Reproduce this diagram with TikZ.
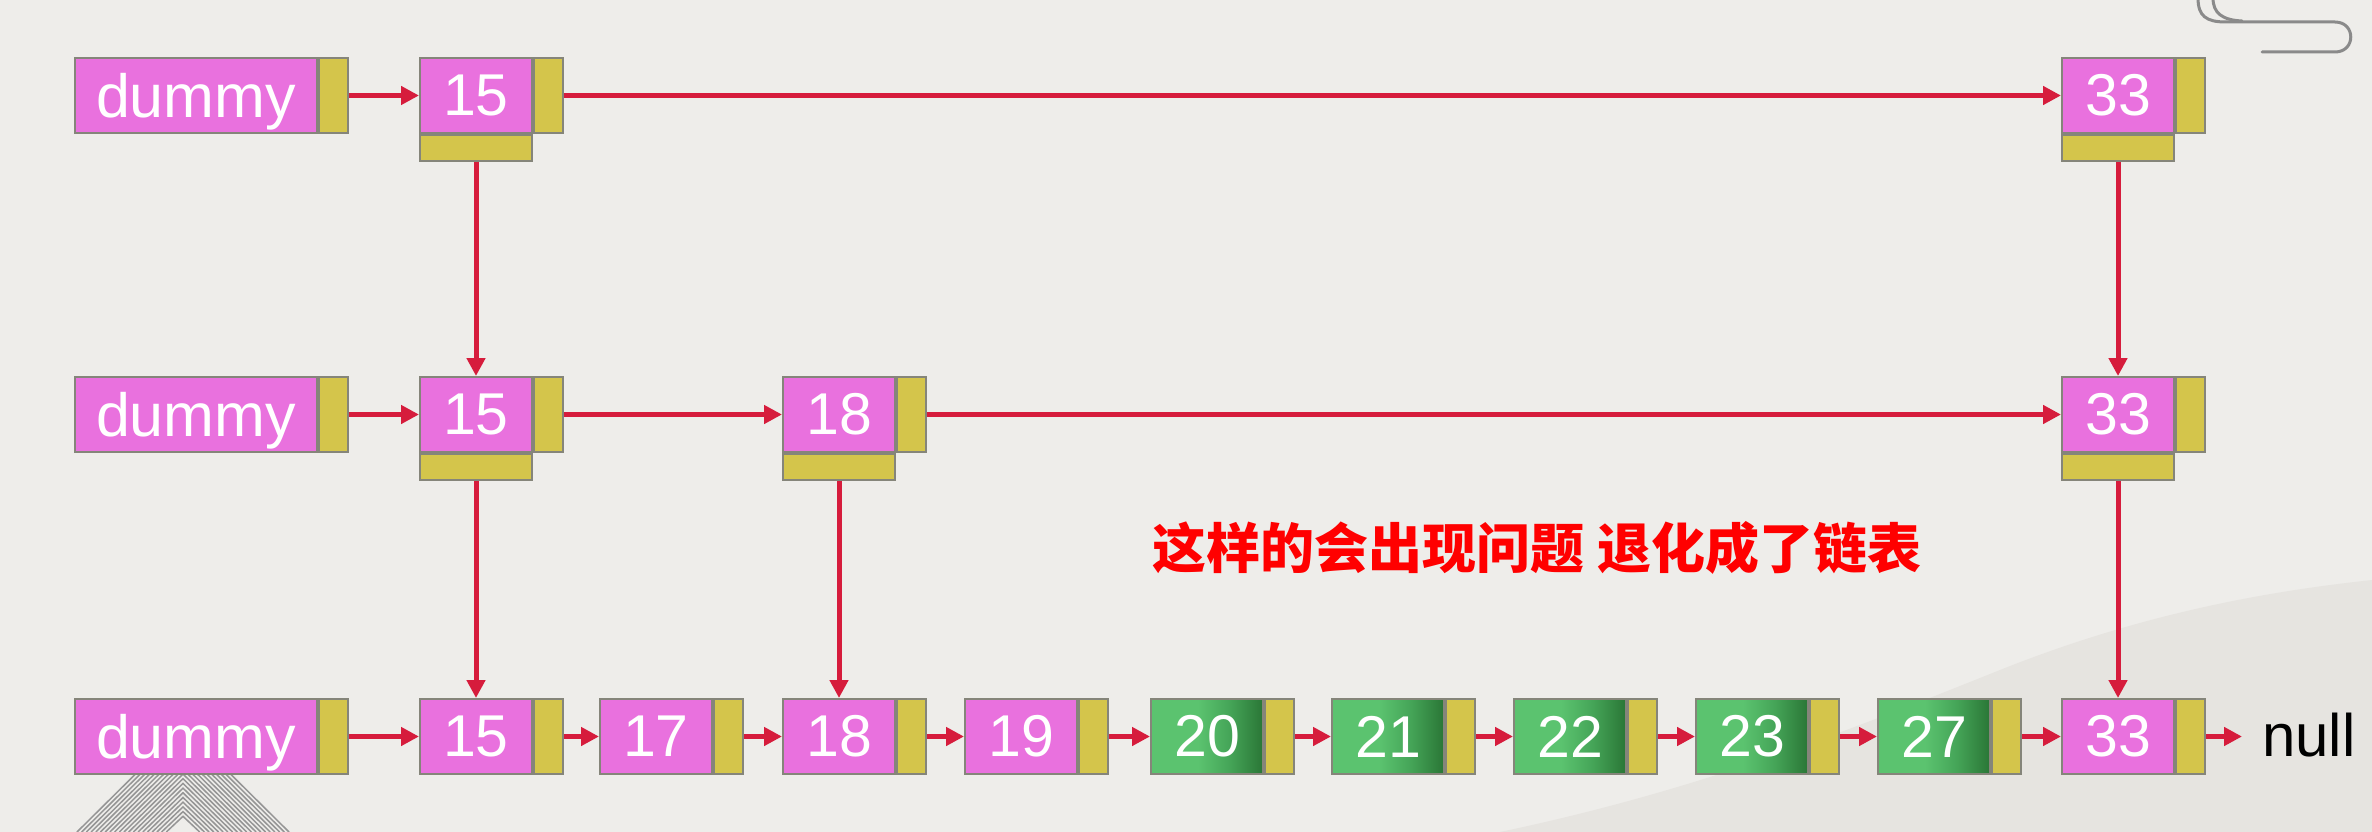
\documentclass[tikz,border=0pt]{standalone}
\usepackage{fontspec}
\setmainfont{Liberation Sans}
\newfontfamily\cjk{Noto Sans CJK SC}
\usetikzlibrary{arrows.meta}
\definecolor{bgc}{HTML}{EEEDEA}
\definecolor{hillc}{HTML}{E6E4E0}
\definecolor{pinkc}{HTML}{E971DE}
\definecolor{yelc}{HTML}{D4C54B}
\definecolor{bordc}{HTML}{85857A}
\definecolor{arrc}{HTML}{D61C3C}
\definecolor{gl}{HTML}{5BC36F}
\definecolor{gm}{HTML}{45A558}
\definecolor{gd}{HTML}{2A7636}
\definecolor{clipc}{HTML}{8A8A8A}
\definecolor{chevc}{HTML}{959595}
\pgfdeclarehorizontalshading{greensh}{100bp}{color(0bp)=(gl); color(25bp)=(gl); color(46bp)=(gl); color(60bp)=(gm); color(75bp)=(gd); color(100bp)=(gd)}
\tikzset{
  cell/.style={draw=bordc, line width=2pt, inner sep=0pt, anchor=north west,
    minimum height=75pt, text=white, font=\fontsize{59}{59}\selectfont},
  pinkcell/.style={cell, fill=pinkc, minimum width=112pt},
  greencell/.style={cell, shading=greensh, minimum width=112pt},
  dummycell/.style={cell, fill=pinkc, minimum width=242pt, text depth=0pt,
    font=\fontsize{61}{61}\selectfont},
  ptrcell/.style={cell, fill=yelc, minimum width=29pt},
  downbar/.style={cell, fill=yelc, minimum width=112pt, minimum height=26pt},
  link/.style={draw=arrc, line width=5pt, -{Triangle[length=18pt,width=18pt]}},
  chev/.style={draw=chevc, line width=1.5pt},
  clipline/.style={draw=clipc, line width=3pt, line cap=round},
}
\begin{document}
\begin{tikzpicture}[x=1pt,y=-1pt]
\useasboundingbox (0,0) rectangle (2372,832);
\fill[bgc] (0,0) rectangle (2372,832);
% faint hills bottom right
\fill[hillc] (1500,832) .. controls (1700,790) and (1850,730) .. (2000,670)
  .. controls (2150,610) and (2280,590) .. (2372,580) -- (2372,832) -- cycle;
% chevron pattern bottom left
\foreach \k in {0,...,19} {
  \draw[chev] ({77+4.7*\k},832) -- (183,{727+4.7*\k}) -- ({289-4.7*\k},832);
}
% paperclip top right
\draw[clipline] (2198,-2) .. controls (2198,16) and (2206,22) .. (2226,22)
  -- (2335,22) .. controls (2356,22) and (2356,52) .. (2335,52) -- (2262,52);
\draw[clipline] (2213,-2) .. controls (2213,13) and (2222,20) .. (2242,21);

% ---------- row 1 ----------
\node[dummycell] (d1) at (74,57) {dummy};
\node[ptrcell] (d1p) at (d1.north east) {};
\node[pinkcell] (a15) at (419,57) {15};
\node[ptrcell] (a15p) at (a15.north east) {};
\node[downbar] (a15b) at (a15.south west) {};
\node[pinkcell] (a33) at (2061,57) {33};
\node[ptrcell] (a33p) at (a33.north east) {};
\node[downbar] (a33b) at (a33.south west) {};

% ---------- row 2 ----------
\node[dummycell] (d2) at (74,376) {dummy};
\node[ptrcell] (d2p) at (d2.north east) {};
\node[pinkcell] (b15) at (419,376) {15};
\node[ptrcell] (b15p) at (b15.north east) {};
\node[downbar] (b15b) at (b15.south west) {};
\node[pinkcell] (b18) at (782,376) {18};
\node[ptrcell] (b18p) at (b18.north east) {};
\node[downbar] (b18b) at (b18.south west) {};
\node[pinkcell] (b33) at (2061,376) {33};
\node[ptrcell] (b33p) at (b33.north east) {};
\node[downbar] (b33b) at (b33.south west) {};

% ---------- row 3 ----------
\node[dummycell] (d3) at (74,698) {dummy};
\node[ptrcell] (d3p) at (d3.north east) {};
\node[pinkcell] (c15) at (419,698) {15};
\node[ptrcell] (c15p) at (c15.north east) {};
\node[pinkcell] (c17) at (599,698) {17};
\node[ptrcell] (c17p) at (c17.north east) {};
\node[pinkcell] (c18) at (782,698) {18};
\node[ptrcell] (c18p) at (c18.north east) {};
\node[pinkcell] (c19) at (964,698) {19};
\node[ptrcell] (c19p) at (c19.north east) {};
\node[greencell] (c20) at (1150,698) {20};
\node[ptrcell] (c20p) at (c20.north east) {};
\node[greencell] (c21) at (1331,698) {21};
\node[ptrcell] (c21p) at (c21.north east) {};
\node[greencell] (c22) at (1513,698) {22};
\node[ptrcell] (c22p) at (c22.north east) {};
\node[greencell] (c23) at (1695,698) {23};
\node[ptrcell] (c23p) at (c23.north east) {};
\node[greencell] (c27) at (1877,698) {27};
\node[ptrcell] (c27p) at (c27.north east) {};
\node[pinkcell] (c33) at (2061,698) {33};
\node[ptrcell] (c33p) at (c33.north east) {};
\node[font=\fontsize{60}{60}\selectfont, text=black, inner sep=0pt, anchor=west] (nul) at (2262,735) {null};

% message
\node[text=red, font=\cjk\bfseries\fontsize{54}{54}\selectfont] (msg) at (1537,548) {这样的会出现问题 退化成了链表};

% ---------- connectors ----------
\draw[link] (d1p.east) -- (a15.west);
\draw[link] (a15p.east) -- (a33.west);
\draw[link] (a15b.south) -- (b15.north);
\draw[link] (a33b.south) -- (b33.north);

\draw[link] (d2p.east) -- (b15.west);
\draw[link] (b15p.east) -- (b18.west);
\draw[link] (b18p.east) -- (b33.west);
\draw[link] (b15b.south) -- (c15.north);
\draw[link] (b18b.south) -- (c18.north);
\draw[link] (b33b.south) -- (c33.north);

\draw[link] (d3p.east) -- (c15.west);
\draw[link] (c15p.east) -- (c17.west);
\draw[link] (c17p.east) -- (c18.west);
\draw[link] (c18p.east) -- (c19.west);
\draw[link] (c19p.east) -- (c20.west);
\draw[link] (c20p.east) -- (c21.west);
\draw[link] (c21p.east) -- (c22.west);
\draw[link] (c22p.east) -- (c23.west);
\draw[link] (c23p.east) -- (c27.west);
\draw[link] (c27p.east) -- (c33.west);
\draw[link, shorten >=20pt] (c33p.east) -- (c33p.east -| nul.west);
\end{tikzpicture}
\end{document}
